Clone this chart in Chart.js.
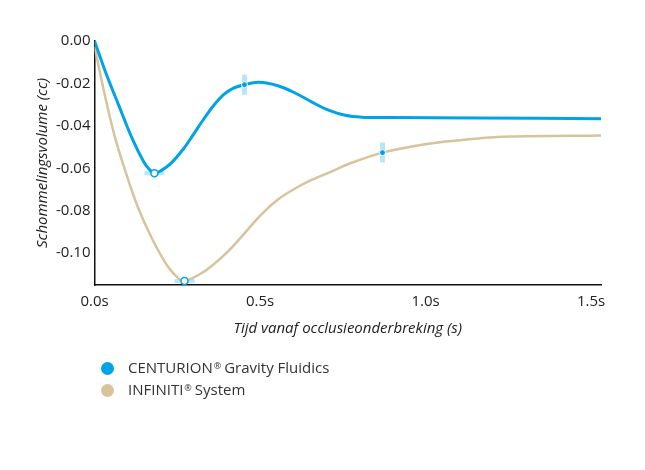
<!DOCTYPE html>
<html>
<head>
<meta charset="utf-8">
<script src="https://cdn.jsdelivr.net/npm/chart.js@4"></script>
<style>
  html, body { margin: 0; padding: 0; background: #fff; }
  #wrap { position: relative; width: 645px; height: 470px; }
  #legend { position: absolute; left: 101px; top: 357px; font-family: "Open Sans", sans-serif; font-size: 15px; color: #333; }
  .item { height: 22px; line-height: 22px; display: flex; align-items: center; }
  .dot { width: 13px; height: 13px; border-radius: 50%; margin-right: 14px; }
  .reg { font-size: 9px; position: relative; top: -4px; margin-left: 1px; margin-right: 3px; }
</style>
</head>
<body>
<div id="wrap">
  <canvas id="chart" width="645" height="470"></canvas>
  <div id="legend"></div>
</div>
<script>
// series names and colours
const seriesNames = ['CENTURION® Gravity Fluidics', 'INFINITI® System']
const seriesColors = ['#00a3e6', '#d7c39c']

// time (s) / volume (cc)
const centurionT = [0, 0.033, 0.073, 0.114, 0.149, 0.166, 0.181, 0.2, 0.23, 0.269, 0.299, 0.329, 0.36, 0.39, 0.42, 0.453, 0.495, 0.556, 0.606, 0.657, 0.707, 0.757, 0.808, 0.888, 1.16, 1.53]
const centurionV = [0, -0.0145, -0.0302, -0.046, -0.057, -0.0606, -0.0623, -0.0612, -0.0578, -0.0508, -0.044, -0.037, -0.0304, -0.0253, -0.0222, -0.0206, -0.0195, -0.0212, -0.0245, -0.0288, -0.0326, -0.035, -0.0359, -0.0361, -0.0363, -0.0366]

const infinitiT = [0, 0.016, 0.038, 0.063, 0.094, 0.129, 0.174, 0.22, 0.255, 0.272, 0.314, 0.354, 0.405, 0.455, 0.505, 0.556, 0.606, 0.656, 0.717, 0.777, 0.87, 0.959, 1.06, 1.16, 1.25, 1.53]
const infinitiV = [-0.0025, -0.0145, -0.0302, -0.046, -0.0617, -0.0775, -0.0932, -0.1059, -0.1121, -0.1131, -0.1103, -0.106, -0.0989, -0.0903, -0.0816, -0.0745, -0.0695, -0.0655, -0.0614, -0.0574, -0.0526, -0.0497, -0.0474, -0.0459, -0.045, -0.0445]

// highlighted points
const openMarkT = [0.181, 0.272]
const openMarkV = [-0.0623, -0.1131]
const dotMarkT = [0.453, 0.87]
const dotMarkV = [-0.0206, -0.0526]

const xTicks = [0, 0.5, 1.0, 1.5]
const yTicks = [0, -0.02, -0.04, -0.06, -0.08, -0.10]

const xTitle = 'Tijd vanaf occlusieonderbreking (s)'
const yTitle = 'Schommelingsvolume (cc)'

function pts(t, v) {
  return t.map((x, i) => ({ x: x, y: v[i] }))
}

const font = { family: '"Open Sans", sans-serif', size: 15 }
const glow = 'rgba(0, 163, 230, 0.28)'

const config = {
  type: 'line',
  data: {
    datasets: [
      {
        data: pts(openMarkT, openMarkV), showLine: false, order: 0,
        pointStyle: 'circle', pointRadius: 3.5, pointBackgroundColor: '#fff',
        pointBorderColor: seriesColors[0], pointBorderWidth: 1.5
      },
      {
        data: pts(dotMarkT, dotMarkV), showLine: false, order: 0,
        pointStyle: 'circle', pointRadius: 3, pointBackgroundColor: seriesColors[0],
        pointBorderColor: '#fff', pointBorderWidth: 1
      },
      {
        data: pts(openMarkT, openMarkV), showLine: false, order: 3,
        pointStyle: 'line', pointRadius: 10, pointBorderWidth: 4, pointBorderColor: glow
      },
      {
        data: pts(dotMarkT, dotMarkV), showLine: false, order: 3,
        pointStyle: 'line', pointRotation: 90, pointRadius: 10, pointBorderWidth: 5, pointBorderColor: glow
      },
      {
        label: seriesNames[0], data: pts(centurionT, centurionV), order: 1,
        borderColor: seriesColors[0], borderWidth: 3, pointRadius: 0, tension: 0.35
      },
      {
        label: seriesNames[1], data: pts(infinitiT, infinitiV), order: 2,
        borderColor: seriesColors[1], borderWidth: 2.5, pointRadius: 0, tension: 0.35
      }
    ]
  },
  options: {
    responsive: false,
    animation: false,
    devicePixelRatio: 1,
    layout: { padding: { left: 30, right: 44, top: 41, bottom: 128 } },
    plugins: { legend: { display: false }, tooltip: { enabled: false } },
    scales: {
      x: {
        type: 'linear', min: 0, max: 1.53,
        afterBuildTicks: (axis) => { axis.ticks = xTicks.map(v => ({ value: v })) },
        grid: { display: false, drawTicks: false },
        border: { color: '#111', width: 1.5 },
        ticks: { color: '#222', font: font, padding: 8, callback: (v) => v.toFixed(1) + 's' },
        title: { display: true, text: xTitle, color: '#222', font: { family: font.family, size: 15, style: 'italic' }, padding: { top: 1 } }
      },
      y: {
        type: 'linear', min: -0.115, max: 0,
        afterBuildTicks: (axis) => { axis.ticks = yTicks.map(v => ({ value: v })) },
        grid: { display: false, drawTicks: false },
        border: { color: '#111', width: 1.5 },
        ticks: { color: '#222', font: font, padding: 4, callback: (v) => v === 0 ? '0.00' : v.toFixed(2) },
        title: { display: true, text: yTitle, color: '#222', font: { family: font.family, size: 15, style: 'italic' }, padding: { bottom: 0 } }
      }
    }
  }
}

new Chart(document.getElementById('chart'), config)

// legend below the plot, one series per row; ® drawn small and raised
let legend = document.getElementById('legend')
seriesNames.forEach((name, i) => {
  let row = document.createElement('div')
  row.className = 'item'
  let dot = document.createElement('span')
  dot.className = 'dot'
  dot.style.background = seriesColors[i]
  row.appendChild(dot)
  let parts = name.split('®')
  let txt = document.createElement('span')
  txt.appendChild(document.createTextNode(parts[0]))
  if (parts.length > 1) {
    let reg = document.createElement('span')
    reg.className = 'reg'
    reg.textContent = '®'
    txt.appendChild(reg)
    txt.appendChild(document.createTextNode(parts[1].trimStart()))
  }
  row.appendChild(txt)
  legend.appendChild(row)
})
</script>
</body>
</html>
